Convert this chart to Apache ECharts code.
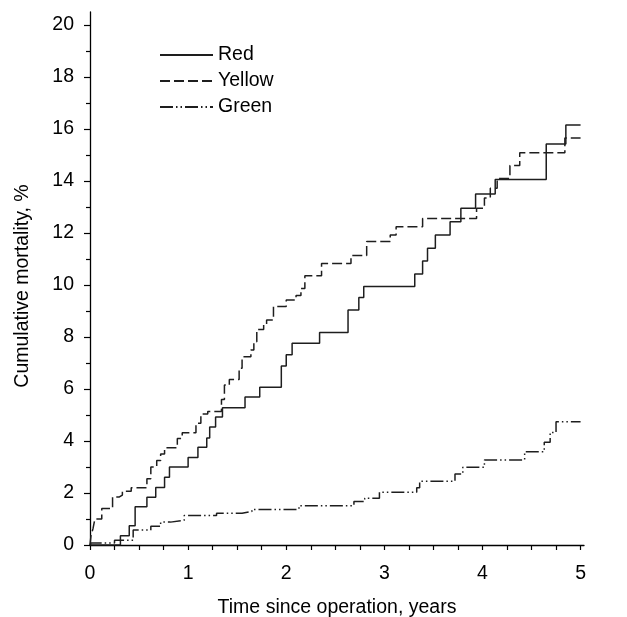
<!DOCTYPE html>
<html>
<head>
<meta charset="utf-8">
<script src="https://cdn.jsdelivr.net/npm/echarts@6/dist/echarts.min.js"></script>
<style>
html,body{margin:0;padding:0;background:#fff;}
#chart{width:627px;height:617px;}
</style>
</head>
<body>
<div id="chart"></div>
<script>
// ---- data (step points: at time t the cumulative mortality jumps to value) ----
const seriesNames = ['Red', 'Yellow', 'Green'];

const redTime  = [0, 0.31, 0.40, 0.46, 0.58, 0.67, 0.76, 0.81, 1.00, 1.10, 1.19, 1.22, 1.28, 1.35, 1.58, 1.73, 1.95, 2.00, 2.06, 2.34, 2.63, 2.74, 2.79, 3.31, 3.39, 3.44, 3.52, 3.67, 3.78, 3.93, 4.13, 4.65, 4.85, 5.00];
const redValue = [0, 0.36, 0.74, 1.47, 1.84, 2.21, 2.61, 3.00, 3.37, 3.76, 4.12, 4.54, 4.92, 5.28, 5.69, 6.07, 6.88, 7.32, 7.76, 8.17, 9.04, 9.52, 9.94, 10.42, 10.92, 11.41, 11.92, 12.43, 12.95, 13.50, 14.06, 15.42, 16.15, 16.15];

const yellowTime  = [0, 0.01, 0.03, 0.05, 0.12, 0.23, 0.30, 0.33, 0.42, 0.58, 0.62, 0.68, 0.72, 0.76, 0.89, 0.94, 1.08, 1.13, 1.20, 1.34, 1.37, 1.42, 1.52, 1.55, 1.64, 1.67, 1.70, 1.77, 1.80, 1.87, 2.00, 2.10, 2.15, 2.19, 2.36, 2.66, 2.82, 3.06, 3.12, 3.39, 3.94, 4.02, 4.08, 4.15, 4.28, 4.38, 4.84, 5.00];
const yellowValue = [0, 0.36, 0.62, 1.00, 1.40, 1.85, 1.92, 2.07, 2.20, 2.55, 3.00, 3.25, 3.50, 3.74, 4.10, 4.32, 4.68, 5.04, 5.13, 5.60, 6.15, 6.37, 6.80, 7.24, 7.50, 7.82, 8.29, 8.50, 8.65, 9.17, 9.42, 9.60, 9.87, 10.36, 10.83, 11.13, 11.67, 11.92, 12.24, 12.56, 12.95, 13.35, 13.72, 14.10, 14.60, 15.09, 15.65, 15.65];

const greenTime  = [0, 0.01, 0.25, 0.44, 0.62, 0.72, 0.82, 0.96, 1.29, 1.55, 1.65, 2.13, 2.69, 2.80, 2.95, 3.33, 3.36, 3.72, 3.80, 4.02, 4.43, 4.63, 4.69, 4.75, 5.00];
const greenValue = [0, 0.08, 0.18, 0.58, 0.72, 0.88, 0.95, 1.13, 1.22, 1.29, 1.37, 1.51, 1.67, 1.80, 2.03, 2.20, 2.45, 2.73, 2.99, 3.27, 3.59, 3.95, 4.33, 4.74, 4.74];

const xTickLabels = [0, 1, 2, 3, 4, 5];
const xTickValues = [0, 0.25, 0.5, 0.75, 1, 1.25, 1.5, 1.75, 2, 2.25, 2.5, 2.75, 3, 3.25, 3.5, 3.75, 4, 4.25, 4.5, 4.75, 5];
const yTickLabels = [0, 2, 4, 6, 8, 10, 12, 14, 16, 18, 20];
const yMinorTicks = [1, 3, 5, 7, 9, 11, 13, 15, 17, 19];

function pairs(t, v) { return t.map((x, i) => [x, v[i]]); }

const FONT = 'Liberation Sans, Arial, sans-serif';
const FS = 19.5;
const LINE = '#1e1e1e';

const chart = echarts.init(document.getElementById('chart'), null, {renderer: 'canvas'});
chart.setOption({
  backgroundColor: '#fff',
  animation: false,
  textStyle: {fontFamily: FONT, color: '#000'},
  grid: {left: 90, right: 43, top: 12, bottom: 72, containLabel: false, outerBoundsMode: 'none'},
  legend: {
    orient: 'vertical',
    left: 159,
    top: 45,
    padding: 0,
    itemWidth: 53,
    itemHeight: 14,
    itemGap: 6,
    data: seriesNames,
    itemStyle: {color: 'rgba(0,0,0,0)', borderWidth: 0, opacity: 0},
    textStyle: {fontFamily: FONT, fontSize: FS, lineHeight: 20, color: '#000'}
  },
  xAxis: {
    type: 'value',
    min: 0,
    max: 5.035,
    name: 'Time since operation, years',
    nameLocation: 'middle',
    nameGap: 53,
    nameTextStyle: {fontFamily: FONT, fontSize: FS, color: '#000'},
    axisLine: {show: true, onZero: false, lineStyle: {color: '#000', width: 1.3}},
    axisTick: {show: true, length: 5, inside: false, customValues: xTickValues, lineStyle: {color: '#000', width: 1.2}},
    axisLabel: {customValues: xTickLabels, margin: 19, fontFamily: FONT, fontSize: FS, color: '#000'},
    splitLine: {show: false}
  },
  yAxis: [{
    type: 'value',
    min: 0,
    max: 20.5,
    position: 'left',
    name: 'Cumulative mortality, %',
    nameLocation: 'middle',
    nameGap: 57,
    nameRotate: 90,
    nameTextStyle: {fontFamily: FONT, fontSize: FS, color: '#000', padding: [0, 15, 0, 0]},
    axisLine: {show: true, onZero: false, lineStyle: {color: '#000', width: 1.3}},
    axisTick: {show: true, length: 6, customValues: yTickLabels, lineStyle: {color: '#000', width: 1.2}},
    axisLabel: {customValues: yTickLabels, margin: 16, fontFamily: FONT, fontSize: FS, color: '#000'},
    splitLine: {show: false}
  }, {
    type: 'value',
    min: 0,
    max: 20.5,
    position: 'left',
    offset: 0,
    axisLine: {show: false},
    axisTick: {show: true, length: 4, customValues: yMinorTicks, lineStyle: {color: '#000', width: 1.2}},
    axisLabel: {show: false},
    splitLine: {show: false}
  }],
  series: [
    {
      name: 'Red', type: 'line', step: 'end', symbol: 'none', yAxisIndex: 0,
      data: pairs(redTime, redValue),
      lineStyle: {color: LINE, width: 1.5, type: 'solid'},
      itemStyle: {color: LINE}
    },
    {
      name: 'Yellow', type: 'line', step: 'end', symbol: 'none', yAxisIndex: 0,
      data: pairs(yellowTime, yellowValue),
      lineStyle: {color: LINE, width: 1.5, type: [10, 4]},
      itemStyle: {color: LINE}
    },
    {
      name: 'Green', type: 'line', step: 'end', symbol: 'none', yAxisIndex: 0,
      data: pairs(greenTime, greenValue),
      lineStyle: {color: LINE, width: 1.5, type: [13, 3, 1.5, 3, 1.5, 3]},
      itemStyle: {color: LINE}
    }
  ]
});
</script>
</body>
</html>
